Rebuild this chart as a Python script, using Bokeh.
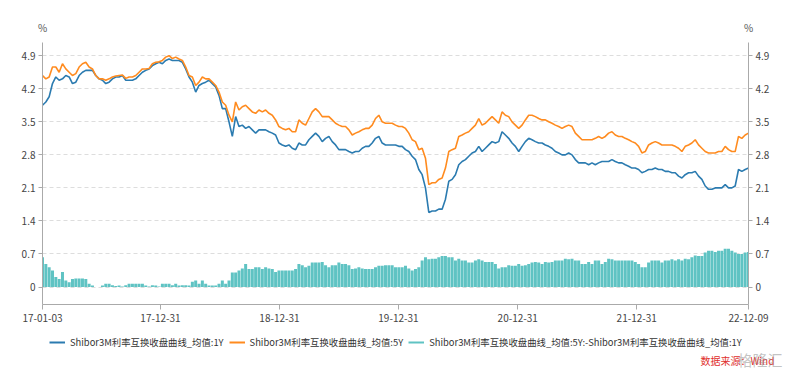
import pandas as pd
from bokeh.plotting import figure
from bokeh.layouts import column
from bokeh.models import (FixedTicker, LinearAxis, Range1d, Legend, LegendItem,
                          Label, DatetimeTickFormatter, CustomJSTickFormatter,
                          ColumnDataSource, Plot)
from bokeh.embed import file_html
from bokeh.resources import INLINE

START = "2017-01-03"
END = "2022-12-09"

RATE_1Y = [
    3.85, 3.92, 4.03, 4.31, 4.45, 4.38, 4.41, 4.48, 4.45, 4.31,
    4.34, 4.48, 4.55, 4.59, 4.59, 4.59, 4.48, 4.41, 4.38, 4.31,
    4.34, 4.41, 4.45, 4.45, 4.48, 4.38, 4.38, 4.38, 4.41, 4.48,
    4.55, 4.59, 4.62, 4.69, 4.73, 4.76, 4.73, 4.80, 4.83, 4.80,
    4.80, 4.80, 4.76, 4.62, 4.45, 4.34, 4.13, 4.27, 4.31, 4.34,
    4.38, 4.31, 4.24, 4.06, 3.78, 3.78, 3.50, 3.19, 3.61, 3.40,
    3.43, 3.36, 3.40, 3.33, 3.26, 3.33, 3.33, 3.33, 3.29, 3.26,
    3.22, 3.05, 3.01, 2.98, 3.01, 2.94, 2.91, 3.05, 3.01, 3.01,
    3.12, 3.19, 3.26, 3.19, 3.08, 3.15, 3.19, 3.08, 3.01, 2.91,
    2.91, 2.91, 2.87, 2.84, 2.87, 2.87, 2.94, 2.98, 2.98, 3.05,
    3.15, 3.19, 3.05, 3.01, 3.01, 3.01, 3.01, 2.98, 2.98, 2.91,
    2.87, 2.77, 2.70, 2.49, 2.38, 2.10, 1.58, 1.61, 1.61, 1.65,
    1.65, 1.86, 2.24, 2.28, 2.38, 2.59, 2.66, 2.70, 2.77, 2.84,
    2.87, 2.98, 2.87, 2.94, 3.01, 3.08, 3.05, 3.08, 3.29, 3.22,
    3.15, 3.05, 2.98, 2.87, 2.98, 3.08, 3.15, 3.12, 3.08, 3.05,
    3.05, 3.01, 2.98, 2.94, 2.87, 2.84, 2.80, 2.80, 2.84, 2.80,
    2.70, 2.63, 2.63, 2.63, 2.59, 2.63, 2.59, 2.63, 2.66, 2.66,
    2.66, 2.70, 2.66, 2.63, 2.63, 2.59, 2.56, 2.52, 2.52, 2.49,
    2.42, 2.45, 2.49, 2.49, 2.52, 2.49, 2.49, 2.45, 2.45, 2.42,
    2.42, 2.35, 2.31, 2.38, 2.42, 2.42, 2.45, 2.35, 2.28, 2.14,
    2.07, 2.07, 2.10, 2.10, 2.10, 2.17, 2.10, 2.10, 2.14, 2.49,
    2.45, 2.49, 2.52,
]

RATE_5Y = [
    4.48, 4.41, 4.45, 4.66, 4.66, 4.55, 4.73, 4.62, 4.55, 4.48,
    4.52, 4.66, 4.73, 4.76, 4.66, 4.62, 4.48, 4.41, 4.41, 4.38,
    4.41, 4.45, 4.47, 4.48, 4.49, 4.42, 4.45, 4.45, 4.48, 4.55,
    4.62, 4.62, 4.63, 4.73, 4.76, 4.77, 4.80, 4.87, 4.90, 4.84,
    4.87, 4.83, 4.80, 4.66, 4.48, 4.45, 4.27, 4.34, 4.45, 4.41,
    4.41, 4.34, 4.27, 4.13, 3.92, 3.85, 3.64, 3.50, 3.92, 3.75,
    3.82, 3.85, 3.78, 3.71, 3.68, 3.75, 3.71, 3.75, 3.68, 3.64,
    3.54, 3.40, 3.36, 3.33, 3.36, 3.29, 3.29, 3.54, 3.47, 3.43,
    3.57, 3.71, 3.78, 3.71, 3.61, 3.61, 3.61, 3.54, 3.47, 3.43,
    3.40, 3.40, 3.33, 3.22, 3.26, 3.29, 3.33, 3.36, 3.36, 3.43,
    3.57, 3.64, 3.50, 3.47, 3.47, 3.47, 3.43, 3.40, 3.40, 3.36,
    3.26, 3.12, 3.08, 2.91, 2.94, 2.73, 2.17, 2.21, 2.21, 2.28,
    2.31, 2.52, 2.87, 2.91, 2.94, 3.19, 3.22, 3.26, 3.29, 3.36,
    3.43, 3.57, 3.43, 3.47, 3.54, 3.61, 3.54, 3.47, 3.71, 3.64,
    3.61, 3.50, 3.43, 3.36, 3.43, 3.54, 3.64, 3.64, 3.61, 3.57,
    3.54, 3.54, 3.50, 3.47, 3.43, 3.40, 3.36, 3.40, 3.43, 3.40,
    3.26, 3.19, 3.12, 3.12, 3.12, 3.12, 3.15, 3.19, 3.15, 3.19,
    3.26, 3.29, 3.22, 3.19, 3.19, 3.15, 3.12, 3.08, 3.05, 2.98,
    2.84, 2.87, 3.01, 3.05, 3.08, 3.05, 3.01, 3.01, 3.01, 3.01,
    2.98, 2.94, 2.87, 2.98, 3.01, 3.05, 3.12, 3.01, 2.94, 2.87,
    2.84, 2.84, 2.84, 2.87, 2.87, 2.98, 2.91, 2.87, 2.87, 3.19,
    3.15, 3.22, 3.26,
]

X_TICK_DATES = ["2017-01-03", "2017-12-31", "2018-12-31", "2019-12-31",
                "2020-12-31", "2021-12-31", "2022-12-09"]
Y_TICKS = [0, 0.7, 1.4, 2.1, 2.8, 3.5, 4.2, 4.9]

LABEL_1Y = "Shibor3M利率互换收盘曲线_均值:1Y"
LABEL_5Y = "Shibor3M利率互换收盘曲线_均值:5Y"
LABEL_SPREAD = "Shibor3M利率互换收盘曲线_均值:5Y:-Shibor3M利率互换收盘曲线_均值:1Y"
UNIT = "%"
SOURCE_TEXT = "数据来源：Wind"
LOGO_TEXT = "格隆汇"

BLUE = "#2b7bb0"
ORANGE = "#ff8b1f"
TEAL = "#5fc3c3"
FONT = "Noto Sans CJK SC"
W = 790

CAN_UNALIGN = "frame_align" in Plot.properties()
X0 = 0 if CAN_UNALIGN else -42   # screen offset of the strip frames

dates = pd.date_range(START, END, periods=len(RATE_1Y))
spread = [round(b - a, 2) for a, b in zip(RATE_1Y, RATE_5Y)]
step_ms = (dates[1] - dates[0]).total_seconds() * 1000.0

src = ColumnDataSource(dict(x=dates, y1=RATE_1Y, y5=RATE_5Y, sp=spread))


def blank_fig(height):
    f = figure(width=W, height=height, x_range=Range1d(0, 1), y_range=Range1d(0, 1),
               x_axis_location=None, y_axis_location=None, min_border=0,
               output_backend="svg", toolbar_location=None)
    f.outline_line_color = None
    f.xgrid.visible = False
    f.ygrid.visible = False
    if CAN_UNALIGN:
        f.frame_align = False
    return f


# ---- top strip with the unit marks ----
top = blank_fig(42)
for xs in (42, 748):
    top.add_layout(Label(x=xs + X0, y=15, x_units="screen", y_units="screen", text=UNIT,
                         text_align="center", text_baseline="middle",
                         text_font=FONT, text_font_size="10px", text_color="#555555"))

# ---- main chart ----
p = figure(width=W, height=288, x_axis_type="datetime",
           x_range=Range1d(dates[0], dates[-1]), y_range=Range1d(-0.37, 5.18),
           output_backend="svg", toolbar_location=None,
           min_border_left=42, min_border_right=42, min_border_top=0,
           min_border_bottom=26)
if CAN_UNALIGN:
    p.frame_align = False
p.outline_line_color = None
p.xgrid.visible = False
p.ygrid.ticker = FixedTicker(ticks=Y_TICKS)
p.ygrid.grid_line_color = "#dddddd"
p.ygrid.grid_line_dash = "4 3"

p.vbar(x="x", top="sp", bottom=0, width=step_ms * 0.9, source=src,
       fill_color=TEAL, line_color=None)
p.line("x", "y1", source=src, line_color=BLUE, line_width=1.6)
p.line("x", "y5", source=src, line_color=ORANGE, line_width=1.6)

ytick_fmt = CustomJSTickFormatter(code="return tick == 0 ? '0' : tick.toFixed(1);")


def style_axis(ax, tick_out, standoff):
    ax.axis_line_color = "#aaaaaa"
    ax.major_tick_line_color = "#aaaaaa"
    ax.major_tick_in = 0
    ax.major_tick_out = tick_out
    ax.minor_tick_line_color = None
    ax.major_label_text_font = FONT
    ax.major_label_text_font_size = "10px"
    ax.major_label_text_color = "#444444"
    ax.major_label_standoff = standoff


left = p.yaxis[0]
left.ticker = FixedTicker(ticks=Y_TICKS)
left.formatter = ytick_fmt
style_axis(left, 4, 3)

right = LinearAxis(ticker=FixedTicker(ticks=Y_TICKS), formatter=ytick_fmt)
style_axis(right, 4, 3)
p.add_layout(right, "right")

xa = p.xaxis[0]
xa.ticker = FixedTicker(ticks=[pd.Timestamp(d).value / 1e6 for d in X_TICK_DATES])
fmt = "%y-%m-%d"
xa.formatter = DatetimeTickFormatter(milliseconds=fmt, seconds=fmt, minsec=fmt,
                                     minutes=fmt, hourmin=fmt, hours=fmt,
                                     days=fmt, months=fmt, years=fmt)
style_axis(xa, 5, 4)

# ---- legend strip + source note (series drawn off-range, only keys show) ----
bot = blank_fig(42)
g1 = bot.line("x", "y1", source=src, line_color=BLUE, line_width=2)
g5 = bot.line("x", "y5", source=src, line_color=ORANGE, line_width=2)
gs = bot.line("x", "sp", source=src, line_color=TEAL, line_width=2)
legend = Legend(items=[LegendItem(label=LABEL_1Y, renderers=[g1]),
                       LegendItem(label=LABEL_5Y, renderers=[g5]),
                       LegendItem(label=LABEL_SPREAD, renderers=[gs])],
                orientation="horizontal", location=(49 + X0, 23))
legend.background_fill_alpha = 0
legend.border_line_color = None
legend.padding = 0
legend.margin = 0
legend.spacing = 5
legend.glyph_width = 16
legend.glyph_height = 12
legend.label_height = 12
legend.label_standoff = 5
legend.label_text_font = FONT
legend.label_text_font_size = "9.4px"
legend.label_text_color = "#333333"
bot.add_layout(legend)

bot.add_layout(Label(x=700 + X0, y=12, x_units="screen", y_units="screen", text=SOURCE_TEXT,
                     text_align="left", text_baseline="middle",
                     text_font=FONT, text_font_size="10px", text_color="#e0302c"))
bot.add_layout(Label(x=737 + X0, y=13, x_units="screen", y_units="screen", text=LOGO_TEXT,
                     text_align="left", text_baseline="middle", text_alpha=0.5,
                     text_font=FONT, text_font_size="15px", text_color="#8a8a8a"))

layout = column(top, p, bot, spacing=0)

open("out.html", "w").write(file_html(layout, INLINE))
